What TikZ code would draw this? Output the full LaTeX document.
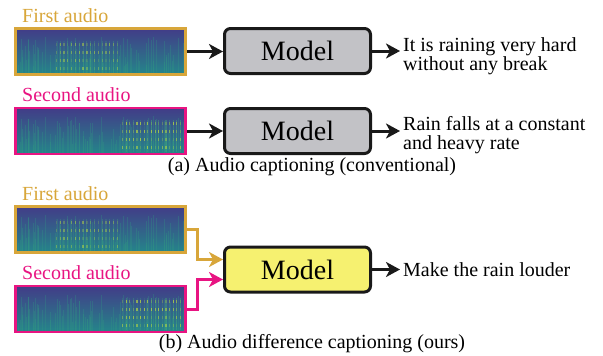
\documentclass[tikz,border=0pt]{standalone}
\usepackage{fontspec}
\setmainfont{Liberation Serif}
\usetikzlibrary{arrows.meta,calc}

\definecolor{audiogold}{RGB}{216,166,58}
\definecolor{audiopink}{RGB}{232,20,130}
\definecolor{modelgray}{RGB}{194,194,198}
\definecolor{modelyellow}{RGB}{246,241,112}
\definecolor{specTop}{RGB}{66,60,136}
\definecolor{specMid}{RGB}{42,106,142}
\definecolor{specBot}{RGB}{36,134,138}
\definecolor{specGreen}{RGB}{70,180,120}
\definecolor{specYellow}{RGB}{200,225,60}

% spectrogram painted inside an audio box
% #1,#2: start and end of the loud part (fraction of the width), #3: loudness
\newcommand\spectrofill[3]{%
  \coordinate (ssw) at (path picture bounding box.south west);
  \coordinate (sne) at (path picture bounding box.north east);
  \coordinate (sse) at (path picture bounding box.south east);
  \shade[top color=specTop, middle color=specMid, bottom color=specBot]
    (ssw) rectangle (sne);
  \pgfmathsetseed{7}
  \foreach \k in {1,...,90}{
    \pgfmathsetmacro\fx{rnd}
    \pgfmathsetmacro\fh{8+30*rnd}
    \draw[specBot!60!specGreen, opacity=0.3, line width=0.6pt]
      ($(ssw)!\fx!(sse)$) -- ++(0pt,\fh pt);
  }
  \foreach \k in {0,...,16}{
    \pgfmathsetmacro\fx{#1+(#2-#1)*\k/16}
    \pgfmathsetmacro\op{(0.15+0.3*rnd)*#3}
    \draw[specGreen, opacity=\op, line width=1.1pt]
      ($(ssw)!\fx!(sse)+(0pt,2pt)$) -- ++(0pt,32pt);
    \foreach \lev in {5,13,21,29}{
      \pgfmathsetmacro\op{(0.1+0.6*rnd)*#3}
      \draw[specYellow, opacity=\op, line width=1.2pt]
        ($(ssw)!\fx!(sse)+(0pt,\lev pt)$) -- ++(0pt,3pt);
    }
  }
}

\tikzset{
  audiobox/.style={draw=#1, line width=2.6pt, minimum width=170pt,
    minimum height=46pt, inner sep=0pt},
  spectro/.style n args={3}{path picture={\spectrofill{#1}{#2}{#3}}},
  modelbox/.style={draw=black!90, line width=3pt, rounded corners=6pt,
    fill=#1, minimum width=146pt, minimum height=45pt,
    font=\fontsize{28}{30}\selectfont},
  audiolabel/.style={text=#1, anchor=base west, inner sep=0pt,
    font=\fontsize{20}{22}\selectfont},
  outtext/.style={anchor=west, align=left, inner sep=3pt,
    font=\fontsize{20}{19}\selectfont},
  captext/.style={font=\fontsize{20}{22}\selectfont},
  flow/.style={draw=#1, line width=3pt,
    -{Stealth[length=14pt,width=15pt,inset=4pt]}}
}

\begin{document}
\begin{tikzpicture}[x=1pt,y=-1pt]
\useasboundingbox (0,0) rectangle (603,356);

% (a) conventional captioning
\node[audiolabel=audiogold] (l1) at (22,22) {First audio};
\node[audiobox=audiogold, spectro={0.24}{0.6}{0.7}] (a1) at (100.5,51.5) {};
\node[modelbox=modelgray] (m1) at (297.5,51) {Model};
\node[outtext] (t1) at (400,56) {It is raining very hard\\without any break};

\node[audiolabel=audiopink] (l2) at (22,101) {Second audio};
\node[audiobox=audiopink, spectro={0.63}{0.97}{1}] (a2) at (100.5,131) {};
\node[modelbox=modelgray] (m2) at (297.5,131) {Model};
\node[outtext] (t2) at (400,135) {Rain falls at a constant\\and heavy rate};

\node[captext] (capa) at (312,167) {(a) Audio captioning (conventional)};

\draw[flow=black!90] (a1.east) -- (a1.east -| m1.west);
\draw[flow=black!90] (m1.east) -- (m1.east -| t1.west);
\draw[flow=black!90] (a2.east) -- (a2.east -| m2.west);
\draw[flow=black!90] (m2.east) -- (m2.east -| t2.west);

% (b) difference captioning
\node[audiolabel=audiogold] (l3) at (22,200.5) {First audio};
\node[audiobox=audiogold, spectro={0.24}{0.6}{0.7}] (b1) at (100.5,229.5) {};
\node[audiolabel=audiopink] (l4) at (22,279) {Second audio};
\node[audiobox=audiopink, spectro={0.63}{0.97}{1}] (b2) at (100.5,309) {};
\node[modelbox=modelyellow] (m3) at (297.5,269.5) {Model};
\node[outtext] (t3) at (400,269.5) {Make the rain louder};

\node[captext] (capb) at (312,344) {(b) Audio difference captioning (ours)};

\draw[flow=audiogold] (b1.east) -- ++(11,0) |- ($(m3.west)+(0,-10)$);
\draw[flow=audiopink] (b2.east) -- ++(11,0) |- ($(m3.west)+(0,10)$);
\draw[flow=black!90] (m3.east) -- (t3.west);
\end{tikzpicture}
\end{document}
